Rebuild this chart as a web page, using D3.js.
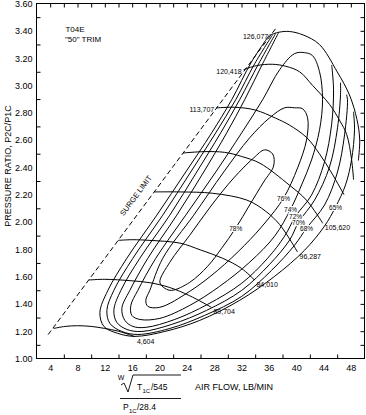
<!DOCTYPE html>
<html><head><meta charset="utf-8">
<script src="https://cdn.jsdelivr.net/npm/d3@7"></script>
<style>
body{margin:0;background:#fff}
svg{display:block}
text{font-family:"Liberation Sans",Arial,sans-serif;fill:#000}
</style>
</head><body>
<svg id="c" width="366" height="415"></svg>
<script>
// ---------- data ----------
const xLabelTicks=[4,8,12,16,20,24,28,32,36,40,44,48];
const xBottomMinor=[6,10,14,18,22,26,30,34,38,42,46];
const xTopTicks=[4,6,8,10,12,14,16,18,20,22,24,26,28,30,32,34,36,38,40,42,44,46,48];
const yLabelTicks=[1.0,1.2,1.4,1.6,1.8,2.0,2.2,2.4,2.6,2.8,3.0,3.2,3.4,3.6];
const yLeftMinor=[1.1,1.3,1.5,1.7,1.9,2.1,2.3,2.5,2.7,2.9,3.1,3.3,3.5];
const yRightTicks=[1.1,1.2,1.3,1.4,1.5,1.6,1.7,1.8,1.9,2.0,2.1,2.2,2.3,2.4,2.5,2.6,2.7,2.8,2.9,3.0,3.1,3.2,3.3,3.4,3.5];

const surgeLine=[[3.7,1.175],[37.2,3.43]];

// constant-speed lines (air flow, pressure ratio)
const speed4604=[[4.5,1.22],[6.2,1.235],[8,1.24],[10,1.235],[12,1.22],[14,1.2],[16.4,1.16]];
const speed69704=[[9.7,1.575],[12,1.58],[15.7,1.57],[18.6,1.555],[21.5,1.52],[24.4,1.46],[27.6,1.375]];
const speed84010=[[13.95,1.865],[16,1.87],[18.6,1.865],[23,1.845],[26,1.795],[29.2,1.735],[32,1.66],[33.9,1.575]];
const speed96287=[[19.25,2.22],[23,2.22],[27.8,2.21],[32.8,2.16],[35.5,2.08],[37.6,1.98],[40.2,1.78]];
const speed105620=[[23.45,2.505],[26.5,2.515],[29.5,2.51],[32,2.48],[34.7,2.43],[39,2.27],[41.5,2.16],[43.9,1.99]];
const speed113707=[[28.3,2.835],[31,2.84],[34,2.82],[37,2.76],[39,2.71],[41.5,2.62],[43.4,2.5],[45.3,2.35],[47,2.2]];
const speed120418=[[32.3,3.115],[34.2,3.145],[36.5,3.155],[38.5,3.14],[40.5,3.1],[42.4,3.0],[44.9,2.86],[46.4,2.74],[47.4,2.64],[48.1,2.46],[48.4,2.31]];
const speed126077=[[36.2,3.37],[37.5,3.39],[39,3.395],[41,3.37],[43.4,3.3],[46,3.1],[47.8,2.93],[48.9,2.75],[49.3,2.6],[49.1,2.45]];
const speedNames=["4,604","89,704","84,010","96,287","105,620","113,707","120,418","126,077"];
const speedLabelSide=["end","end","end","end","end","start","start","start"];

// efficiency contours
const eff65=[[36.12,3.372],[33.48,3.174],[30.56,2.895],[27.64,2.653],[23.84,2.366],[19.61,2.05],[15.22,1.734],[12.45,1.499],[11.28,1.338],[11.86,1.235],[13.91,1.184],[16.39,1.162],[20.78,1.198],[25.89,1.279],[31.73,1.426],[36.85,1.602],[41.23,1.793],[44.15,1.97],[45.76,2.109],[47.22,2.271],[48.1,2.454],[48.54,2.675],[48.39,2.807]];
const eff68=[[36.56,3.372],[33.93,3.159],[31.15,2.895],[28.23,2.653],[24.57,2.366],[20.48,2.05],[16.1,1.734],[13.32,1.499],[12.3,1.353],[12.74,1.257],[14.49,1.198],[16.83,1.176],[21.51,1.22],[26.62,1.316],[32.03,1.455],[36.41,1.646],[39.77,1.83],[41.52,1.955],[44.15,2.124],[46.05,2.366],[47.08,2.638],[47.51,2.895],[47.37,2.932]];
const eff70=[[36.99,3.38],[34.51,3.159],[31.73,2.895],[28.96,2.653],[25.45,2.366],[21.51,2.05],[17.12,1.734],[14.35,1.499],[13.32,1.353],[13.76,1.264],[15.22,1.213],[17.42,1.198],[21.8,1.25],[26.91,1.353],[32.03,1.499],[36.12,1.69],[39.04,1.867],[40.36,1.999],[42.69,2.16],[44.88,2.403],[46.05,2.689],[46.49,2.932],[46.49,3.02]];
const eff72=[[37.43,3.387],[35.09,3.159],[32.46,2.895],[29.84,2.653],[26.47,2.366],[22.53,2.05],[18.29,1.734],[15.66,1.499],[14.49,1.367],[14.93,1.279],[16.1,1.235],[18.0,1.228],[22.24,1.286],[27.06,1.397],[32.03,1.551],[35.82,1.734],[38.31,1.896],[39.92,2.043],[42.25,2.197],[44.15,2.44],[45.18,2.711],[45.47,2.968],[45.2,3.15]];
const eff74=[[41.23,3.24],[39.77,3.233],[37.58,3.115],[35.09,2.895],[32.03,2.653],[28.23,2.366],[23.84,2.05],[19.46,1.734],[16.83,1.499],[15.81,1.389],[15.95,1.316],[17.12,1.286],[20.05,1.294],[24.43,1.389],[28.81,1.529],[33.19,1.705],[36.85,1.896],[39.19,2.094],[40.79,2.271],[42.25,2.454],[43.42,2.675],[43.86,2.895],[43.42,3.1],[42.4,3.218]];
const eff76=[[39.77,2.836],[38.31,2.836],[36.12,2.763],[33.19,2.616],[29.4,2.366],[25.01,2.05],[20.48,1.734],[18.58,1.499],[18.0,1.426],[18.29,1.382],[20.05,1.375],[24.43,1.492],[28.52,1.646],[32.46,1.83],[35.53,1.999],[38.16,2.175],[40.21,2.396],[41.52,2.601],[41.67,2.763],[40.94,2.829]];
const eff78=[[20.05,1.558],[21.51,1.705],[24.43,1.903],[27.64,2.124],[30.86,2.322],[33.78,2.469],[35.38,2.528],[36.56,2.498],[36.7,2.41],[35.24,2.293],[33.19,2.124],[31.15,1.955],[29.1,1.808],[27.06,1.676],[24.43,1.558],[21.8,1.499],[20.78,1.514]];
const effNames=["65%","68%","70%","72%","74%","76%","78%"];
const effLabelPos=[[45.76,2.109],[41.52,1.955],[40.36,1.999],[39.92,2.043],[39.19,2.094],[38.16,2.175],[31.15,1.955]];

// ---------- drawing ----------
const svg=d3.select("#c");
const x=d3.scaleLinear().domain([2,50]).range([36.5,364.5]);
const y=d3.scaleLinear().domain([1,3.6]).range([358.5,3.5]);

svg.append("rect").attr("x",x(2)).attr("y",y(3.6)).attr("width",x(50)-x(2)).attr("height",y(1)-y(3.6))
  .attr("fill","none").attr("stroke","#000").attr("stroke-width",1);

function styleAxis(g,fs){g.select(".domain").remove();g.selectAll("line").attr("stroke","#000");
  g.selectAll("text").attr("font-size",fs).attr("font-family",'"Liberation Sans",Arial,sans-serif').attr("fill","#000");g.attr("font-family",null).attr("font-size",null);}

svg.append("g").attr("transform",`translate(${x(2)},0)`)
  .call(d3.axisLeft(y).tickValues(yLabelTicks).tickSize(0).tickPadding(4).tickFormat(d3.format(".2f")))
  .call(g=>styleAxis(g,9));
svg.append("g").attr("transform",`translate(${x(2)},0)`)
  .call(d3.axisLeft(y).tickValues(yLeftMinor).tickSize(-4).tickFormat(""))
  .call(g=>styleAxis(g,9));
svg.append("g").attr("transform",`translate(${x(50)},0)`)
  .call(d3.axisRight(y).tickValues(yRightTicks).tickSize(-4).tickFormat(""))
  .call(g=>styleAxis(g,9));
svg.append("g").attr("transform",`translate(0,${y(1)})`)
  .call(d3.axisBottom(x).tickValues(xLabelTicks).tickSize(0).tickPadding(6).tickFormat(d3.format("d")))
  .call(g=>styleAxis(g,9));
svg.append("g").attr("transform",`translate(0,${y(1)})`)
  .call(d3.axisBottom(x).tickValues(xBottomMinor).tickSize(-4).tickFormat(""))
  .call(g=>styleAxis(g,9));
svg.append("g").attr("transform",`translate(0,${y(3.6)})`)
  .call(d3.axisTop(x).tickValues(xTopTicks).tickSize(-4).tickFormat(""))
  .call(g=>styleAxis(g,9));

const line=d3.line().x(d=>x(d[0])).y(d=>y(d[1])).curve(d3.curveCatmullRom.alpha(0.5));
const lineClosed=d3.line().x(d=>x(d[0])).y(d=>y(d[1])).curve(d3.curveCatmullRomClosed.alpha(0.5));

const plot=svg.append("g");
plot.append("path").attr("d",d3.line().x(d=>x(d[0])).y(d=>y(d[1]))(surgeLine))
  .attr("fill","none").attr("stroke","#000").attr("stroke-width",1).attr("stroke-dasharray","5,3");

[eff65,eff68,eff70,eff72].forEach(c=>plot.append("path").attr("d",line(c)).attr("fill","none").attr("stroke","#000").attr("stroke-width",1));
[eff74,eff76,eff78].forEach(c=>plot.append("path").attr("d",lineClosed(c)).attr("fill","none").attr("stroke","#000").attr("stroke-width",1));

const speeds=[speed4604,speed69704,speed84010,speed96287,speed105620,speed113707,speed120418,speed126077];
speeds.forEach(s=>plot.append("path").attr("d",line(s)).attr("fill","none").attr("stroke","#000").attr("stroke-width",1));

speeds.forEach((s,i)=>{
  if(speedLabelSide[i]==="end"){
    const p=s[s.length-1];
    svg.append("text").attr("x",x(p[0])+2).attr("y",y(p[1])+7).attr("font-size",7).text(speedNames[i]);
  } else {
    const p=s[0];
    svg.append("text").attr("x",x(p[0])-2).attr("y",y(p[1])+4).attr("text-anchor","end").attr("font-size",7).text(speedNames[i]);
  }
});

effNames.forEach((n,i)=>{
  svg.append("text").attr("x",x(effLabelPos[i][0])).attr("y",y(effLabelPos[i][1])+2.5)
    .attr("text-anchor","middle").attr("font-size",6.5)
    .attr("stroke","#fff").attr("stroke-width",2.2).attr("paint-order","stroke").text(n);
});

const sa=Math.atan2(y(surgeLine[1][1])-y(surgeLine[0][1]),x(surgeLine[1][0])-x(surgeLine[0][0]))*180/Math.PI;
svg.append("text").attr("transform",`translate(138,197) rotate(${sa})`).attr("text-anchor","middle")
  .attr("font-size",7.5).text("SURGE LIMIT");

svg.append("text").attr("x",75).attr("y",32).attr("text-anchor","middle").attr("font-size",8).text("T04E");
svg.append("text").attr("x",83).attr("y",41.5).attr("text-anchor","middle").attr("font-size",8).text("\"50\" TRIM");

svg.append("text").attr("transform","translate(11,166) rotate(-90)").attr("text-anchor","middle")
  .attr("font-size",9).text("PRESSURE RATIO, P2C/P1C");

svg.append("text").attr("x",195).attr("y",390).attr("font-size",9).text("AIR FLOW, LB/MIN");

const f=svg.append("g");
f.append("text").attr("x",121).attr("y",380).attr("text-anchor","middle").attr("font-size",7).text("W");
f.append("path").attr("d","M121,385 L124,383 L128,392 L133,375 L181,375").attr("fill","none").attr("stroke","#000").attr("stroke-width",0.9);
f.append("text").attr("x",137).attr("y",390).attr("font-size",8.5).text("T");
f.append("text").attr("x",142.5).attr("y",393).attr("font-size",6).text("1C");
f.append("text").attr("x",151).attr("y",390).attr("font-size",8.5).text("/545");
f.append("path").attr("d","M120,398.5 L181,398.5").attr("stroke","#000").attr("stroke-width",0.9);
f.append("text").attr("x",123).attr("y",410).attr("font-size",8.5).text("P");
f.append("text").attr("x",129).attr("y",412.5).attr("font-size",6).text("1C");
f.append("text").attr("x",137).attr("y",410).attr("font-size",8.5).text("/28.4");
</script>
</body></html>
